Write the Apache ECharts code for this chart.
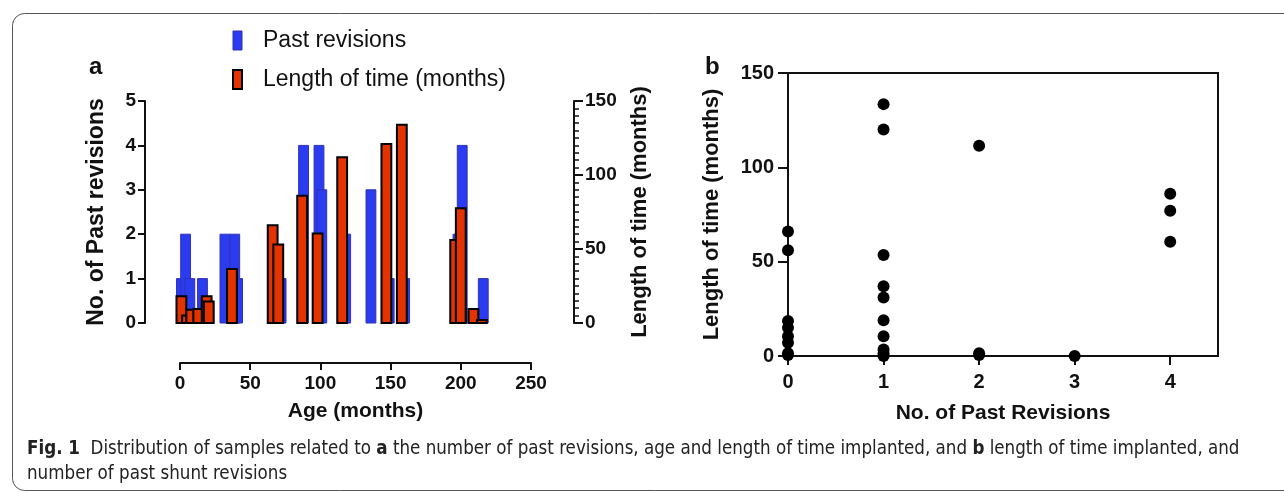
<!DOCTYPE html>
<html>
<head>
<meta charset="utf-8">
<script src="https://cdn.jsdelivr.net/npm/echarts@6/dist/echarts.min.js"></script>
<style>
html, body { margin: 0; padding: 0; background: #fff; }
#chart { width: 1284px; height: 493px; }
</style>
</head>
<body>
<div id="chart"></div>
<script>
// panel a: past revisions (blue, left axis) by age in months
const revisionAges = [1, 4, 7, 16, 32, 39, 41, 72, 88, 99, 101, 118, 136, 149, 160, 198, 201, 216];
const revisionCounts = [1, 2, 1, 1, 2, 2, 1, 1, 4, 4, 3, 2, 3, 1, 1, 2, 4, 1];
// panel a: length of time implanted (red, right axis) by age in months
const timeAges = [1, 5, 8, 13, 19, 20.5, 37, 66, 70, 87, 98, 115.5, 147, 158, 196, 200, 209, 215];
const timeMonths = [18, 5, 9, 9.5, 18, 14.5, 36.5, 66, 53, 86, 60.5, 112, 121, 134, 56, 77.5, 9.5, 2];
// panel b: length of time vs number of past revisions
const scatterRevisions = [0, 0, 0, 0, 0, 0, 0, 0, 1, 1, 1, 1, 1, 1, 1, 1, 1, 1, 2, 2, 2, 3, 4, 4, 4];
const scatterTimes = [66, 56, 18.5, 15, 10.5, 7, 1.5, 0.5, 133.5, 120, 53.5, 37, 31, 19, 10.5, 3.5, 1.5, 0, 111.5, 1.5, 0.5, 0, 86, 77, 60.5];

const FONT = '"Liberation Sans", Arial, Helvetica, sans-serif';
const CAPTION_FONT = '"Liberation Sans Narrow", "DejaVu Sans Condensed", ' + FONT;
const BAR_W = 7; // bar width in months
const INK = '#111';

const blueData = revisionAges.map((a, i) => [a, revisionCounts[i]]);
const redData = timeAges.map((a, i) => [a, timeMonths[i]]);
const dots = scatterRevisions.map((r, i) => [r, scatterTimes[i]]);

function renderBar(params, api) {
  const x = api.value(0);
  const v = api.value(1);
  const p0 = api.coord([x - BAR_W / 2, 0]);
  const p1 = api.coord([x + BAR_W / 2, v]);
  return {
    type: 'rect',
    shape: { x: p0[0], y: p1[1], width: p1[0] - p0[0], height: p0[1] - p1[1] },
    style: api.style()
  };
}

function nameStyle(size) {
  return { color: INK, fontFamily: FONT, fontWeight: 'bold', fontSize: size };
}

function axisBase(extra) {
  return Object.assign({
    type: 'value',
    splitLine: { show: false },
    axisLine: { show: true, onZero: false, lineStyle: { color: INK, width: 2 } },
    axisTick: { show: true, inside: false, length: 7, lineStyle: { color: INK, width: 2 } },
    axisLabel: { color: INK, fontFamily: FONT, fontWeight: 'bold', fontSize: 19 },
    nameLocation: 'middle',
    nameTextStyle: nameStyle(21)
  }, extra);
}

const blueStyle = { color: '#2a3bf0', borderColor: '#3232b4', borderWidth: 1 };
const redStyle = { color: '#e23300', borderColor: '#000', borderWidth: 2 };

const chart = echarts.init(document.getElementById('chart'));
const option = {
  animation: false,
  backgroundColor: '#fff',
  textStyle: { fontFamily: FONT },
  legend: {
    orient: 'vertical',
    left: 232,
    top: 29,
    padding: 0,
    itemWidth: 9,
    itemHeight: 19,
    itemGap: 16,
    textStyle: { fontFamily: FONT, fontSize: 23, lineHeight: 19, color: INK, padding: [0, 0, 0, 16] },
    data: [
      { name: 'Past revisions', icon: 'rect', itemStyle: blueStyle },
      { name: 'Length of time (months)', icon: 'rect', itemStyle: redStyle }
    ]
  },
  grid: [
    { left: 180, right: 753, top: 101, bottom: 170 },
    { left: 788, right: 66, top: 73, bottom: 137, show: true, borderColor: INK, borderWidth: 2, backgroundColor: 'transparent' }
  ],
  xAxis: [
    axisBase({
      gridIndex: 0, min: 0, max: 250, interval: 50, position: 'bottom', offset: 40,
      name: 'Age (months)', nameGap: 38,
      axisLabel: { color: INK, fontFamily: FONT, fontWeight: 'bold', fontSize: 19, margin: 11 }
    }),
    axisBase({
      gridIndex: 1, min: 0, max: 4.5, interval: 1, position: 'bottom',
      name: 'No. of Past Revisions', nameGap: 47,
      axisTick: { show: true, inside: false, length: 9, lineStyle: { color: INK, width: 2 } },
      axisLabel: { color: INK, fontFamily: FONT, fontWeight: 'bold', fontSize: 20, margin: 16, showMaxLabel: false }
    })
  ],
  yAxis: [
    axisBase({
      gridIndex: 0, min: 0, max: 5, interval: 1, position: 'left', offset: 35,
      name: 'No. of Past revisions', nameGap: 37,
      nameTextStyle: nameStyle(23),
      axisLabel: { color: INK, fontFamily: FONT, fontWeight: 'bold', fontSize: 19, margin: 9 }
    }),
    axisBase({
      gridIndex: 0, min: 0, max: 150, interval: 50, position: 'right', offset: 43,
      name: 'Length of time (months)', nameGap: 55,
      nameTextStyle: nameStyle(22),
      axisTick: { show: true, inside: false, length: 9, lineStyle: { color: INK, width: 2 } },
      minorTick: { show: true, splitNumber: 10, length: 5, lineStyle: { color: INK, width: 1.5 } },
      axisLabel: { color: INK, fontFamily: FONT, fontWeight: 'bold', fontSize: 19, margin: 11 }
    }),
    axisBase({
      gridIndex: 1, min: 0, max: 150, interval: 50, position: 'left',
      name: 'Length of time (months)', nameGap: 65,
      nameTextStyle: nameStyle(22),
      axisTick: { show: true, inside: false, length: 10, lineStyle: { color: INK, width: 2 } },
      axisLabel: { color: INK, fontFamily: FONT, fontWeight: 'bold', fontSize: 20, margin: 14 }
    })
  ],
  series: [
    {
      name: 'Past revisions', type: 'custom', xAxisIndex: 0, yAxisIndex: 0,
      renderItem: renderBar, itemStyle: blueStyle, encode: { x: 0, y: 1 }, data: blueData
    },
    {
      name: 'Length of time (months)', type: 'custom', xAxisIndex: 0, yAxisIndex: 1,
      renderItem: renderBar, itemStyle: redStyle, encode: { x: 0, y: 1 }, data: redData
    },
    {
      type: 'scatter', xAxisIndex: 1, yAxisIndex: 2, symbolSize: 12, clip: false,
      itemStyle: { color: '#000', opacity: 1 }, data: dots
    }
  ],
  graphic: [
    {
      type: 'rect', left: 10, top: 11, silent: true,
      shape: { width: 1300, height: 477, r: 12 },
      style: { fill: 'none', stroke: '#555', lineWidth: 1 }
    },
    {
      type: 'text', left: 89, top: 55,
      style: { text: 'a', fill: INK, font: 'bold 24px ' + FONT }
    },
    {
      type: 'text', left: 705, top: 55,
      style: { text: 'b', fill: INK, font: 'bold 24px ' + FONT }
    },
    {
      type: 'text', left: 27, top: 437,
      style: {
        text: '{b|Fig. 1}  Distribution of samples related to {b|a} the number of past revisions, age and length of time implanted, and {b|b} length of time implanted, and\nnumber of past shunt revisions',
        fill: '#222',
        font: '18.6px ' + CAPTION_FONT,
        lineHeight: 25,
        rich: {
          b: { fontWeight: 'bold', fontSize: 18.6, fontFamily: CAPTION_FONT, fill: '#222', lineHeight: 25 }
        }
      }
    }
  ]
};
chart.setOption(option);
</script>
</body>
</html>
